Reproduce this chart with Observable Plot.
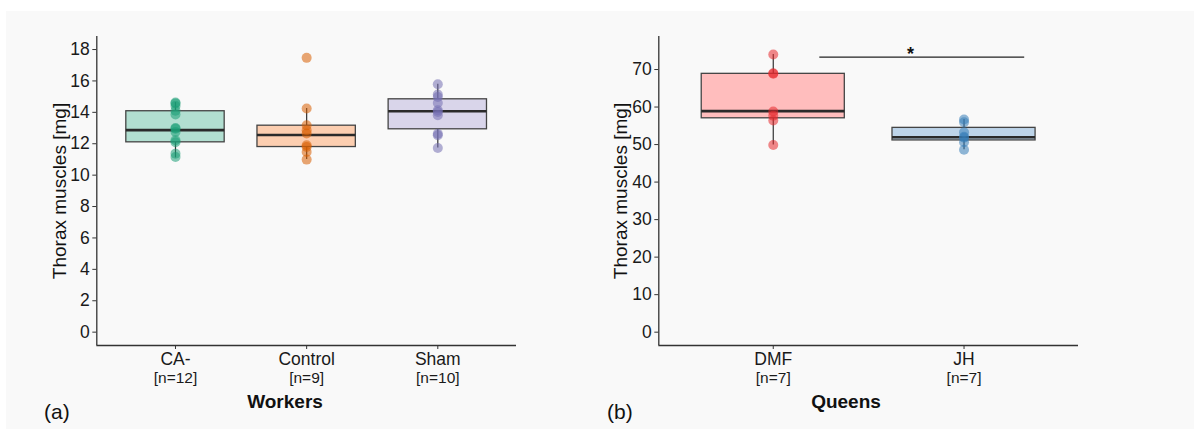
<!DOCTYPE html>
<html>
<head>
<meta charset="utf-8">
<script src="https://cdn.jsdelivr.net/npm/d3@7"></script>
<script src="https://cdn.jsdelivr.net/npm/@observablehq/plot@0.6"></script>
<style>
  html, body { margin: 0; padding: 0; background: #ffffff; }
  body { width: 1194px; height: 429px; position: relative; overflow: hidden; font-family: "Liberation Sans", Arial, sans-serif; }
  #bg { position: absolute; left: 6px; top: 11px; width: 1188px; height: 418px; background: #f9f9f9; }
  .panel { position: absolute; top: 0; }
  .ytitle { position: absolute; font-size: 19px; color: #111; white-space: nowrap; transform: translate(-50%, -50%) rotate(-90deg); }
  .xtitle { position: absolute; font-size: 19px; font-weight: bold; color: #111; transform: translate(-50%, -50%); white-space: nowrap; }
  .tag { position: absolute; font-size: 21px; color: #111; transform: translate(0, -50%); }
</style>
</head>
<body>
<div id="bg"></div>
<div id="pa" class="panel" style="left:0px"></div>
<div id="pb" class="panel" style="left:594px"></div>
<div class="ytitle" style="left:60px; top:191px">Thorax muscles [mg]</div>
<div class="ytitle" style="left:621px; top:191px">Thorax muscles [mg]</div>
<div class="xtitle" style="left:285px; top:402px">Workers</div>
<div class="xtitle" style="left:846px; top:402px">Queens</div>
<div class="tag" style="left:44px; top:412px">(a)</div>
<div class="tag" style="left:607px; top:412px">(b)</div>
<script>
// ---- Workers (panel a) ----
const workerGroups = ["CA-", "Control", "Sham"];
const workerN = [12, 9, 10];
const workerQ1 = [12.09, 11.79, 12.92];
const workerMedian = [12.87, 12.56, 14.07];
const workerQ3 = [14.07, 13.15, 14.83];
const workerLow = [11.1, 10.99, 11.73];
const workerHigh = [14.62, 14.24, 15.79];
const caPoints = [14.62, 14.57, 14.4, 14.1, 13.87, 13.0, 12.96, 12.75, 12.22, 12.1, 11.37, 11.15];
const controlPoints = [17.47, 14.24, 13.17, 12.86, 12.65, 11.9, 11.79, 11.47, 10.99];
const shamPoints = [15.79, 15.13, 14.98, 14.6, 14.13, 14.02, 13.81, 12.64, 12.54, 11.73];
const workerTicks = [0, 2, 4, 6, 8, 10, 12, 14, 16, 18];

// ---- Queens (panel b) ----
const queenGroups = ["DMF", "JH"];
const queenN = [7, 7];
const queenQ1 = [57.0, 51.1];
const queenMedian = [58.9, 51.96];
const queenQ3 = [68.85, 54.45];
const queenLow = [49.9, 48.6];
const queenHigh = [74.0, 56.7];
const dmfPoints = [74.0, 69.0, 68.85, 58.8, 57.7, 56.4, 49.9];
const jhPoints = [56.7, 55.96, 53.3, 52.1, 51.8, 50.6, 48.6];
const queenTicks = [0, 10, 20, 30, 40, 50, 60, 70];
const sigFrom = [1.244];
const sigTo = [2.318];
const sigValue = [73.3];
const sigStarAt = [1.72];
const sigLabel = ["*"];

const workerColors = ["#1b9e77", "#d95f02", "#7570b3"];
const workerFills = ["#b2dfd1", "#fcceb0", "#d9d5ea"];
const queenColors = ["#e8282c", "#377eb8"];
const queenFills = ["#ffbdbd", "#bdd4e9"];

function makePanel({groups, ns, q1, med, q3, lo, hi, points, ticks, ydomain, colors, fills, width, marginLeft, marginRight, extra = []}) {
  const boxes = groups.map((g, i) => ({g, i: i + 1, q1: q1[i], med: med[i], q3: q3[i], lo: lo[i], hi: hi[i], fill: fills[i]}));
  const pts = points.flatMap((arr, i) => arr.map(v => ({i: i + 1, v, color: colors[i]})));
  const xmin = 0.4, xmax = groups.length + 0.6;
  const hw = 0.375;
  return Plot.plot({
    width, height: 429,
    marginLeft, marginRight, marginTop: 36, marginBottom: 84,
    style: {background: "transparent", fontFamily: "Liberation Sans, Arial, sans-serif", color: "#1a1a1a"},
    x: {domain: [xmin, xmax]},
    y: {domain: ydomain},
    marks: [
      // whiskers
      Plot.ruleX(boxes, {x: "i", y1: "q3", y2: "hi", stroke: "#333", strokeWidth: 1.2}),
      Plot.ruleX(boxes, {x: "i", y1: "lo", y2: "q1", stroke: "#333", strokeWidth: 1.2}),
      // boxes
      Plot.rect(boxes, {x1: d => d.i - hw, x2: d => d.i + hw, y1: "q1", y2: "q3", fill: "fill", stroke: "#444", strokeWidth: 1.3}),
      // medians
      Plot.ruleY(boxes, {y: "med", x1: d => d.i - hw, x2: d => d.i + hw, stroke: "#2a2a2a", strokeWidth: 2.6}),
      // points
      Plot.dot(pts, {x: "i", y: "v", r: 5, fill: "color", fillOpacity: 0.55, stroke: "none"}),
      ...extra,
      // axes
      Plot.ruleX([xmin], {stroke: "#333", strokeWidth: 1.3}),
      Plot.ruleY([ydomain[0]], {stroke: "#333", strokeWidth: 1.3}),
      Plot.axisY({ticks, tickSize: 4, tickPadding: 3, fontSize: 17.5, label: null, stroke: "#333"}),
      Plot.axisX({ticks: groups.map((g, i) => i + 1), tickFormat: (d) => groups[d - 1], tickSize: 4, tickPadding: 3, fontSize: 17.5, label: null, stroke: "#333"}),
      Plot.axisX({ticks: groups.map((g, i) => i + 1), tickFormat: (d) => `[n=${ns[d - 1]}]`, tickSize: 0, tickPadding: 26, fontSize: 15.5, label: null})
    ]
  });
}

const pa = makePanel({
  groups: workerGroups, ns: workerN, q1: workerQ1, med: workerMedian, q3: workerQ3, lo: workerLow, hi: workerHigh,
  points: [caPoints, controlPoints, shamPoints], ticks: workerTicks, ydomain: [-0.85, 18.83],
  colors: workerColors, fills: workerFills, width: 594, marginLeft: 96.3, marginRight: 78
});
document.getElementById("pa").appendChild(pa);

const sig = sigFrom.map((s, k) => ({x1: s, x2: sigTo[k], y: sigValue[k], sx: sigStarAt[k], label: sigLabel[k]}));
const pb = makePanel({
  groups: queenGroups, ns: queenN, q1: queenQ1, med: queenMedian, q3: queenQ3, lo: queenLow, hi: queenHigh,
  points: [dmfPoints, jhPoints], ticks: queenTicks, ydomain: [-3.55, 78.8],
  colors: queenColors, fills: queenFills, width: 600, marginLeft: 64.3, marginRight: 116,
  extra: [
    Plot.ruleY(sig, {y: "y", x1: "x1", x2: "x2", stroke: "#222", strokeWidth: 1.3}),
    Plot.text(sig, {x: "sx", y: "y", text: "label", fontSize: 18, fontWeight: "bold", dy: 3, lineAnchor: "bottom", fill: "#111"})
  ]
});
document.getElementById("pb").appendChild(pb);
</script>
</body>
</html>
